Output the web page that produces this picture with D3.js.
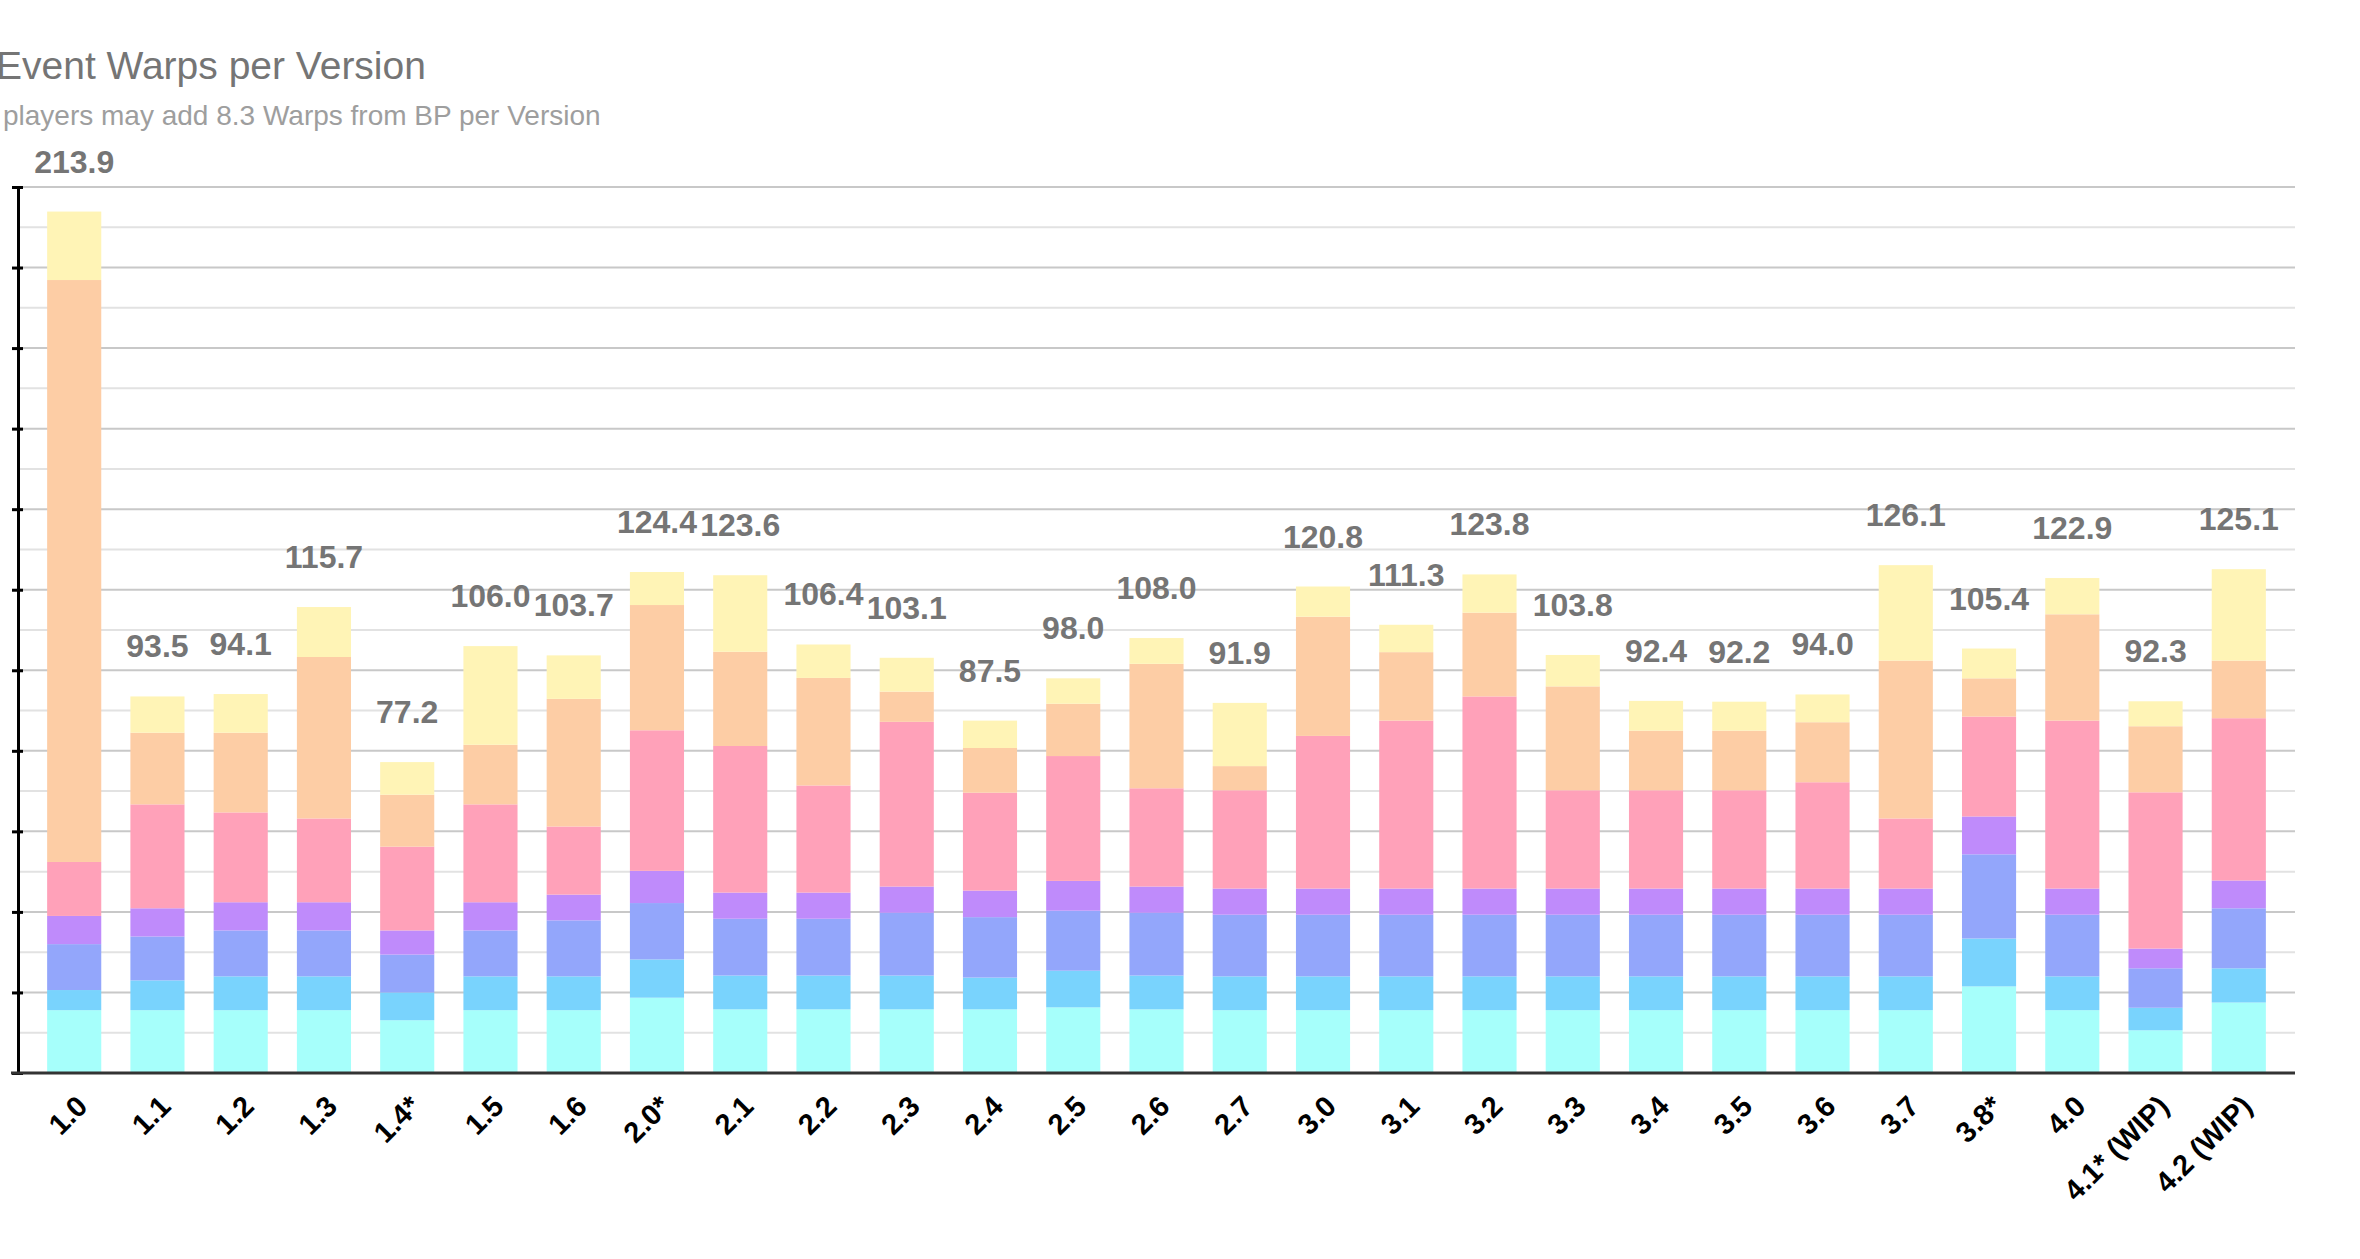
<!DOCTYPE html>
<html>
<head>
<meta charset="utf-8">
<script src="https://cdn.jsdelivr.net/npm/d3@7"></script>
<style>
  body { margin: 0; background: #fff; }
  svg { display: block; font-family: "Liberation Sans", Arial, sans-serif; }
</style>
</head>
<body>
<div id="chart"></div>
<script>
const width = 2360;
const height = 1259;

// version labels on the x axis
const versions = ["1.0", "1.1", "1.2", "1.3", "1.4*", "1.5", "1.6", "2.0*", "2.1", "2.2", "2.3", "2.4", "2.5", "2.6", "2.7",
    "3.0", "3.1", "3.2", "3.3", "3.4", "3.5", "3.6", "3.7", "3.8*", "4.0", "4.1* (WIP)", "4.2 (WIP)"];

// stacked sources, bottom to top (no legend in the picture, named by colour)
const aqua     = [15.6, 15.6, 15.6, 15.6, 13.1, 15.6, 15.6, 18.7, 15.8, 15.8, 15.8, 15.8, 16.3, 15.8, 15.6, 15.6, 15.6, 15.6, 15.6, 15.6, 15.6, 15.6, 15.6, 21.5, 15.6, 10.6, 17.5];
const sky      = [5.0, 7.4, 8.4, 8.4, 6.9, 8.4, 8.4, 9.5, 8.4, 8.4, 8.4, 7.9, 9.1, 8.4, 8.4, 8.4, 8.4, 8.4, 8.4, 8.4, 8.4, 8.4, 8.4, 11.9, 8.4, 5.6, 8.5];
const blue     = [11.4, 10.9, 11.4, 11.4, 9.4, 11.4, 13.9, 14.0, 14.1, 14.1, 15.6, 15.0, 14.9, 15.6, 15.3, 15.3, 15.3, 15.3, 15.3, 15.3, 15.3, 15.3, 15.3, 20.9, 15.3, 9.8, 14.9];
const violet   = [7.0, 7.0, 7.0, 7.0, 6.0, 7.0, 6.4, 8.0, 6.5, 6.5, 6.5, 6.6, 7.4, 6.5, 6.5, 6.5, 6.5, 6.5, 6.5, 6.5, 6.5, 6.5, 6.5, 9.4, 6.5, 4.9, 6.9];
const pink     = [13.4, 25.8, 22.3, 20.8, 20.8, 24.3, 16.9, 34.9, 36.4, 26.6, 40.9, 24.3, 31.0, 24.4, 24.4, 37.9, 41.7, 47.7, 24.4, 24.4, 24.4, 26.4, 17.4, 24.8, 41.7, 38.8, 40.3];
const peach    = [144.5, 17.8, 19.8, 40.1, 12.9, 14.8, 31.7, 31.1, 23.4, 26.7, 7.5, 11.1, 13.0, 30.9, 6.0, 29.6, 17.0, 20.8, 25.8, 14.8, 14.8, 14.9, 39.2, 9.5, 26.4, 16.4, 14.3];
const lemon    = [17.0, 9.0, 9.6, 12.4, 8.1, 24.5, 10.8, 8.2, 19.0, 8.3, 8.4, 6.8, 6.3, 6.4, 15.7, 7.5, 6.8, 9.5, 7.8, 7.4, 7.2, 6.9, 23.7, 7.4, 9.0, 6.2, 22.7];

const seriesKeys = ["aqua", "sky", "blue", "violet", "pink", "peach", "lemon"];
const seriesColors = ["#a6fffb", "#79d3fd", "#93a6fb", "#bf8bfb", "#ffa1b9", "#fdcda5", "#fff4b6"];

const yMax = 220;
const yTicks = d3.range(0, yMax + 1, 10);

const rows = versions.map((v, i) => ({
    version: v,
    aqua: aqua[i], sky: sky[i], blue: blue[i], violet: violet[i],
    pink: pink[i], peach: peach[i], lemon: lemon[i]
}));

const margin = { top: 187, right: 65, bottom: 186, left: 18 };

const svg = d3.select("#chart")
    .append("svg")
    .attr("width", width)
    .attr("height", height);

svg.append("rect").attr("width", width).attr("height", height).attr("fill", "#fff");

const x = d3.scaleBand()
    .domain(versions)
    .range([margin.left, width - margin.right])
    .paddingInner(0.35)
    .paddingOuter(0.35);

const y = d3.scaleLinear()
    .domain([0, yMax])
    .range([height - margin.bottom, margin.top]);

// gridlines, darker every 20
svg.append("g")
    .selectAll("line")
    .data(yTicks.filter(t => t > 0))
    .join("line")
    .attr("x1", margin.left)
    .attr("x2", width - margin.right)
    .attr("y1", d => y(d))
    .attr("y2", d => y(d))
    .attr("stroke", d => d % 20 === 0 ? "#c8c8c8" : "#e2e2e2")
    .attr("stroke-width", 2);

const stack = d3.stack().keys(seriesKeys);
const layers = stack(rows);

svg.append("g")
    .selectAll("g")
    .data(layers)
    .join("g")
    .attr("fill", (d, i) => seriesColors[i])
    .selectAll("rect")
    .data(d => d)
    .join("rect")
    .attr("x", d => x(d.data.version))
    .attr("width", x.bandwidth())
    .attr("y", d => y(d[1]))
    .attr("height", d => y(d[0]) - y(d[1]));

// y axis without labels
const yAxis = d3.axisLeft(y)
    .tickValues(d3.range(0, yMax + 1, 20))
    .tickSize(6)
    .tickFormat("");

const yG = svg.append("g")
    .attr("transform", `translate(${margin.left},0)`)
    .call(yAxis);
yG.select(".domain").attr("stroke", "#000").attr("stroke-width", 3);
yG.selectAll(".tick line").attr("stroke", "#000").attr("stroke-width", 3).attr("x2", 5).attr("x1", -6);

// x axis
const xAxis = d3.axisBottom(x).tickSize(0).tickPadding(0);
const xG = svg.append("g")
    .attr("transform", `translate(0,${height - margin.bottom})`)
    .call(xAxis);
xG.select(".domain")
    .attr("d", `M${margin.left - 7},0H${width - margin.right}`)
    .attr("stroke", "#333")
    .attr("stroke-width", 3);
xG.selectAll(".tick text")
    .attr("fill", "#000")
    .attr("font-size", 29)
    .attr("font-weight", "bold")
    .attr("text-anchor", "end")
    .attr("dy", 0)
    .attr("transform", "translate(15,35) rotate(-45)");

// totals above bars
svg.append("g")
    .selectAll("text")
    .data(rows)
    .join("text")
    .attr("x", d => x(d.version) + x.bandwidth() / 2)
    .attr("y", d => y(d3.sum(seriesKeys, k => d[k])) - 39)
    .attr("text-anchor", "middle")
    .attr("fill", "#757575")
    .attr("font-size", 32)
    .attr("font-weight", "bold")
    .text(d => d3.sum(seriesKeys, k => d[k]).toFixed(1));

// titles (the left edge is clipped in the reference too)
svg.append("text")
    .attr("x", -4)
    .attr("y", 79)
    .attr("fill", "#757575")
    .attr("font-size", 39)
    .text("Event Warps per Version");

svg.append("text")
    .attr("x", 3)
    .attr("y", 125)
    .attr("fill", "#9e9e9e")
    .attr("font-size", 28)
    .text("players may add 8.3 Warps from BP per Version");
</script>
</body>
</html>
